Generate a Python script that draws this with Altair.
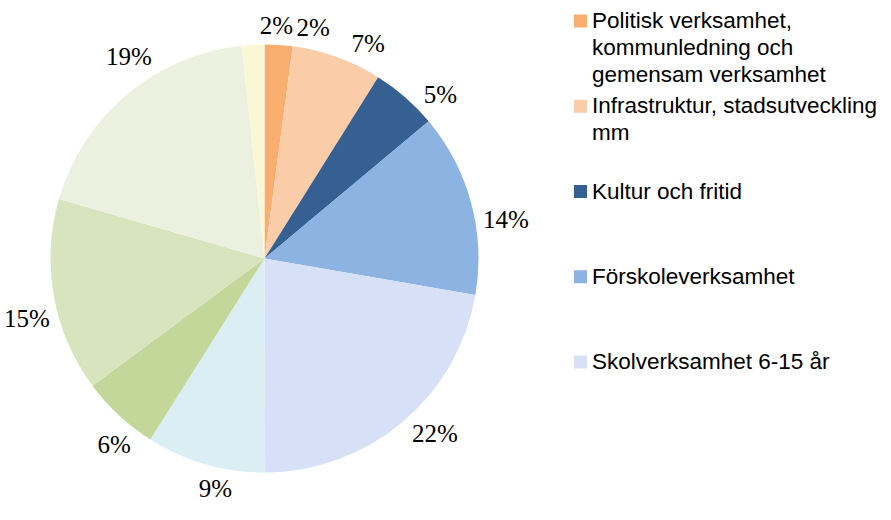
import altair as alt
import pandas as pd

categories = [
    "Politisk verksamhet, kommunledning och gemensam verksamhet",
    "Infrastruktur, stadsutveckling mm",
    "Kultur och fritid",
    "Förskoleverksamhet",
    "Skolverksamhet 6-15 år",
    "Gymnasieskola",
    "Individ- och familjeomsorg",
    "Stöd till personer med funktionsnedsättning",
    "Äldreomsorg",
    "Övrigt",
]
values = [2.1, 6.8, 5.0, 13.8, 22.2, 9.0, 5.9, 14.6, 18.8, 1.7]
labels = ["2%", "7%", "5%", "14%", "22%", "9%", "6%", "15%", "19%", "2%"]
colors = [
    "#F9AD6F", "#FACDA8", "#366092", "#8DB3E2", "#D6E0F6",
    "#DAEEF3", "#C4D79B", "#D8E4BD", "#EBF1DE", "#FAF8D4",
]
legend_shown = categories[:5]
legend_text = [
    "Politisk verksamhet,\nkommunledning och\ngemensam verksamhet",
    "Infrastruktur, stadsutveckling\nmm",
    "Kultur och fritid",
    "Förskoleverksamhet",
    "Skolverksamhet 6-15 år",
]

df = pd.DataFrame({
    "category": categories,
    "value": values,
    "label": labels,
    "idx": list(range(len(categories))),
    "legend_text": legend_text + [""] * (len(categories) - len(legend_text)),
})

color_scale = alt.Scale(domain=categories, range=colors)
cx, cy, R = 264.5, 258.5, 214
GAP = 6
SEP = 0.157  # min angular separation between neighbouring labels (rad)

base = alt.Chart(df)

pie = base.mark_arc(outerRadius=R).encode(
    theta=alt.Theta("value:Q", stack=True),
    order=alt.Order("idx:Q"),
    color=alt.Color("category:N", scale=color_scale, legend=None),
    x=alt.value(cx),
    y=alt.value(cy),
)

# "best fit"-like outside labels: slice mid angle, small rotation,
# simple collision push, radius grows with the text box extent
pct = base.transform_window(
    cum="sum(value)", sort=[alt.SortField("idx")], frame=[None, 0]
).transform_joinaggregate(
    total="sum(value)"
).transform_calculate(
    mid="(datum.cum - datum.value / 2) / datum.total * 2 * PI",
    hw="6.25 * length(datum.label) + 4",
).transform_calculate(
    ang="(datum.mid < 130 * PI / 180 || datum.mid > 300 * PI / 180) ? datum.mid + 6 * PI / 180 : datum.mid - 4 * PI / 180"
).transform_calculate(
    a2="datum.ang > PI ? datum.ang - 2 * PI : datum.ang"
).transform_window(
    prev="lag(a2)", sort=[alt.SortField("a2")]
).transform_calculate(
    a3=f"(isValid(datum.prev) && datum.a2 - datum.prev < {SEP}) ? datum.prev + {SEP} : datum.a2"
).transform_calculate(
    lr=f"{R + GAP} + datum.hw * abs(sin(datum.a3)) + 12 * abs(cos(datum.a3))"
).mark_text(
    font="Liberation Serif", fontSize=25, color="#000000",
    align="center", baseline="middle",
).encode(
    theta=alt.Theta("a3:Q", scale=None, stack=None),
    radius=alt.Radius("lr:Q", scale=None, stack=None),
    text="label:N",
    x=alt.value(cx),
    y=alt.value(cy),
)

ypos = alt.Y(
    "category:N",
    scale=alt.Scale(type="point", domain=legend_shown, range=[21, 362], padding=0),
    axis=None,
)

leg_sym = base.transform_filter("datum.idx < 5").mark_square(size=169, opacity=1).encode(
    x=alt.value(580.5),
    y=ypos,
    color=alt.Color("category:N", scale=color_scale, legend=None),
)

leg_txt = base.transform_filter("datum.idx < 5").mark_text(
    align="left", baseline="alphabetic", dy=7, lineBreak="\n", lineHeight=27,
    font="Liberation Sans", fontSize=22.5, color="#000000",
).encode(
    x=alt.value(592),
    y=ypos,
    text="legend_text:N",
)

chart = alt.layer(pie, pct, leg_sym, leg_txt).properties(
    width=891, height=520,
    autosize=alt.AutoSizeParams(type="none"),
    padding=0,
).configure_view(stroke=None)

chart.save("out.html", embed_options={"renderer": "svg", "actions": False})
